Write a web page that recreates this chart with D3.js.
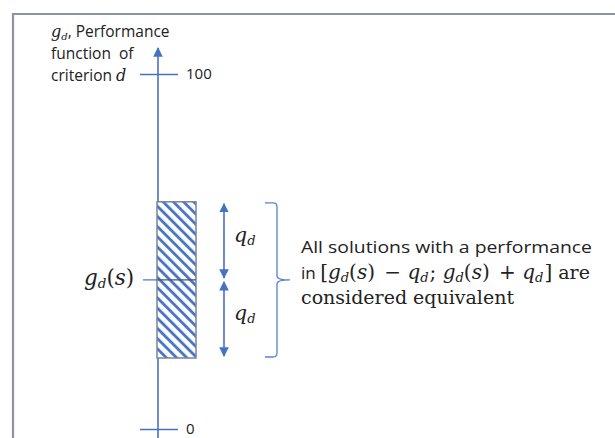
<!DOCTYPE html>
<html><head><meta charset="utf-8">
<script src="https://cdn.jsdelivr.net/npm/d3@7"></script>
<style>body{margin:0;background:#fff}svg{display:block}</style>
</head><body>
<script>
const tickValues = [0, 100];
const tickLabels = ["0", "100"];
const performance = [42];   // g_d(s)
const threshold = [22];     // q_d
const axisTitle = ["Performance", "function  of", "criterion "];
const noteLines = ["All solutions with a performance", "are", "considered equivalent"];

const W = 615, H = 438;
const blue = "#4472c4";
const svg = d3.select("body").append("svg").attr("width", W).attr("height", H);
const defs = svg.append("defs");
const pat = defs.append("pattern").attr("id","hatch").attr("patternUnits","userSpaceOnUse")
  .attr("width",7.2).attr("height",7.2).attr("patternTransform","rotate(-45)");
pat.append("rect").attr("width",7.2).attr("height",7.2).attr("fill","#fff");
pat.append("line").attr("x1",1.5).attr("y1",0).attr("x2",1.5).attr("y2",7.2).attr("stroke",blue).attr("stroke-width",2.8);
const mk = defs.append("marker").attr("id","ah").attr("viewBox","0 0 10 10").attr("refX",9).attr("refY",5)
  .attr("markerWidth",6).attr("markerHeight",6).attr("orient","auto-start-reverse").attr("markerUnits","strokeWidth");
mk.append("path").attr("d","M0,0L10,5L0,10Z").attr("fill",blue);

// frame
svg.append("path").attr("d",`M13,${H}V14H${W}`).attr("fill","none").attr("stroke","#8a94a6").attr("stroke-width",2.2);

const y = d3.scaleLinear().domain([0,100]).range([429,74]);
const ax = 158;
const tf = "Open Sans, sans-serif", sf = "DejaVu Serif, serif";

// axis line with arrow
svg.append("line").attr("x1",ax).attr("x2",ax).attr("y1",H).attr("y2",48)
  .attr("stroke",blue).attr("stroke-width",1.6).attr("marker-end","url(#ah)");
const axis = d3.axisRight(y).tickValues(tickValues).tickFormat((d,i)=>tickLabels[i]).tickSizeInner(0).tickSizeOuter(0);
const axg = svg.append("g").attr("transform",`translate(${ax},0)`).call(axis);
axg.select(".domain").remove();
axg.selectAll(".tick text").attr("x",28).attr("dy","0.3em").attr("font-family",tf).attr("font-size",15).attr("fill","#222");
axg.selectAll(".tick").append("line").attr("x1",-18).attr("x2",20).attr("stroke",blue).attr("stroke-width",1.3);

const g = performance[0], q = threshold[0];
const rx = 157, rw = 39;
svg.append("rect").attr("x",rx).attr("y",y(g+q)).attr("width",rw).attr("height",y(g-q)-y(g+q))
  .attr("fill","url(#hatch)").attr("stroke","#7b8597").attr("stroke-width",1.5);
svg.append("line").attr("x1",143).attr("x2",ax).attr("y1",y(g)).attr("y2",y(g)).attr("stroke",blue).attr("stroke-width",1.2);
svg.append("line").attr("x1",ax).attr("x2",rx+rw).attr("y1",y(g)).attr("y2",y(g)).attr("stroke","#4a5568").attr("stroke-width",1.2);
// label gd(s)
const gl = svg.append("text").attr("x",84).attr("y",y(g)+5).attr("font-family",sf).attr("font-size",21.5).attr("fill","#222");
gl.append("tspan").attr("font-style","italic").text("g");
gl.append("tspan").attr("font-style","italic").attr("font-size",13.5).attr("dy",3).text("d");
gl.append("tspan").attr("dy",-3).text("(");
gl.append("tspan").attr("font-style","italic").text("s");
gl.append("tspan").text(")");

// double arrows
const axx = 224;
[[g+q, g],[g, g-q]].forEach(([a,b])=>{
  svg.append("line").attr("x1",axx).attr("x2",axx).attr("y1",y(a)+2).attr("y2",y(b)-2)
    .attr("stroke",blue).attr("stroke-width",1.6).attr("marker-start","url(#ah)").attr("marker-end","url(#ah)");
  const t = svg.append("text").attr("x",234).attr("y",(y(a)+y(b))/2+1).attr("font-family",sf).attr("font-size",20.5).attr("fill","#222");
  t.append("tspan").attr("font-style","italic").text("q");
  t.append("tspan").attr("font-style","italic").attr("font-size",13).attr("dy",3).text("d");
});

// brace
const bt = y(g+q)+1, bb = y(g-q)-1, bm = y(g);
svg.append("path").attr("d",`M265,${bt} H273 Q277,${bt} 277,${bt+4} V${bm-4} Q277,${bm} 290,${bm} Q277,${bm} 277,${bm+4} V${bb-4} Q277,${bb} 273,${bb} H265`)
  .attr("fill","none").attr("stroke","#5b82c9").attr("stroke-width",1.3);

// axis title
const ts = 15.5;
const t0 = svg.append("text").attr("x",51).attr("y",37).attr("font-family",tf).attr("font-size",ts).attr("fill","#222");
t0.append("tspan").attr("font-family",sf).attr("font-style","italic").attr("font-size",16).text("g");
t0.append("tspan").attr("font-family",sf).attr("font-style","italic").attr("font-size",10).attr("dy",3).text("d");
t0.append("tspan").attr("dy",-3).text(", " + axisTitle[0]);
svg.append("text").attr("x",51).attr("y",59).attr("font-family",tf).attr("font-size",ts).attr("fill","#222").attr("xml:space","preserve").text(axisTitle[1]);
const t2 = svg.append("text").attr("x",51).attr("y",81).attr("font-family",tf).attr("font-size",ts).attr("fill","#222");
t2.append("tspan").text(axisTitle[2]);
t2.append("tspan").attr("font-style","italic").attr("font-family",sf).attr("font-size",16).text("d");

// note
const nf = "Open Sans, sans-serif";
svg.append("text").attr("x",301).attr("y",253).attr("font-family",nf).attr("font-size",17).attr("fill","#222")
  .attr("textLength",291).attr("lengthAdjust","spacingAndGlyphs").text(noteLines[0]);
const n2 = svg.append("text").attr("x",301).attr("y",279).attr("font-family",sf).attr("font-size",20).attr("fill","#222");
n2.append("tspan").attr("font-family",nf).attr("font-size",17).text("in ");
function gds(el){
  el.append("tspan").attr("font-style","italic").text("g");
  el.append("tspan").attr("font-style","italic").attr("font-size",13).attr("dy",3).text("d");
  el.append("tspan").attr("dy",-3).text("(");
  el.append("tspan").attr("font-style","italic").text("s");
  el.append("tspan").text(")");
}
function qd(el){
  el.append("tspan").attr("font-style","italic").text("q");
  el.append("tspan").attr("font-style","italic").attr("font-size",13).attr("dy",3).text("d");
}
n2.append("tspan").text("[");
gds(n2); n2.append("tspan").attr("dx",3).text(" − "); qd(n2);
n2.append("tspan").attr("dy",-3).attr("dx",1).text("; ");
gds(n2); n2.append("tspan").attr("dx",3).text(" + "); qd(n2);
n2.append("tspan").attr("dy",-3).attr("dx",1).text("]");
n2.append("tspan").attr("font-size",19).text(" " + noteLines[1]);
svg.append("text").attr("x",301).attr("y",304).attr("font-family",sf).attr("font-size",19).attr("fill","#222").text(noteLines[2]);
</script>
</body></html>
